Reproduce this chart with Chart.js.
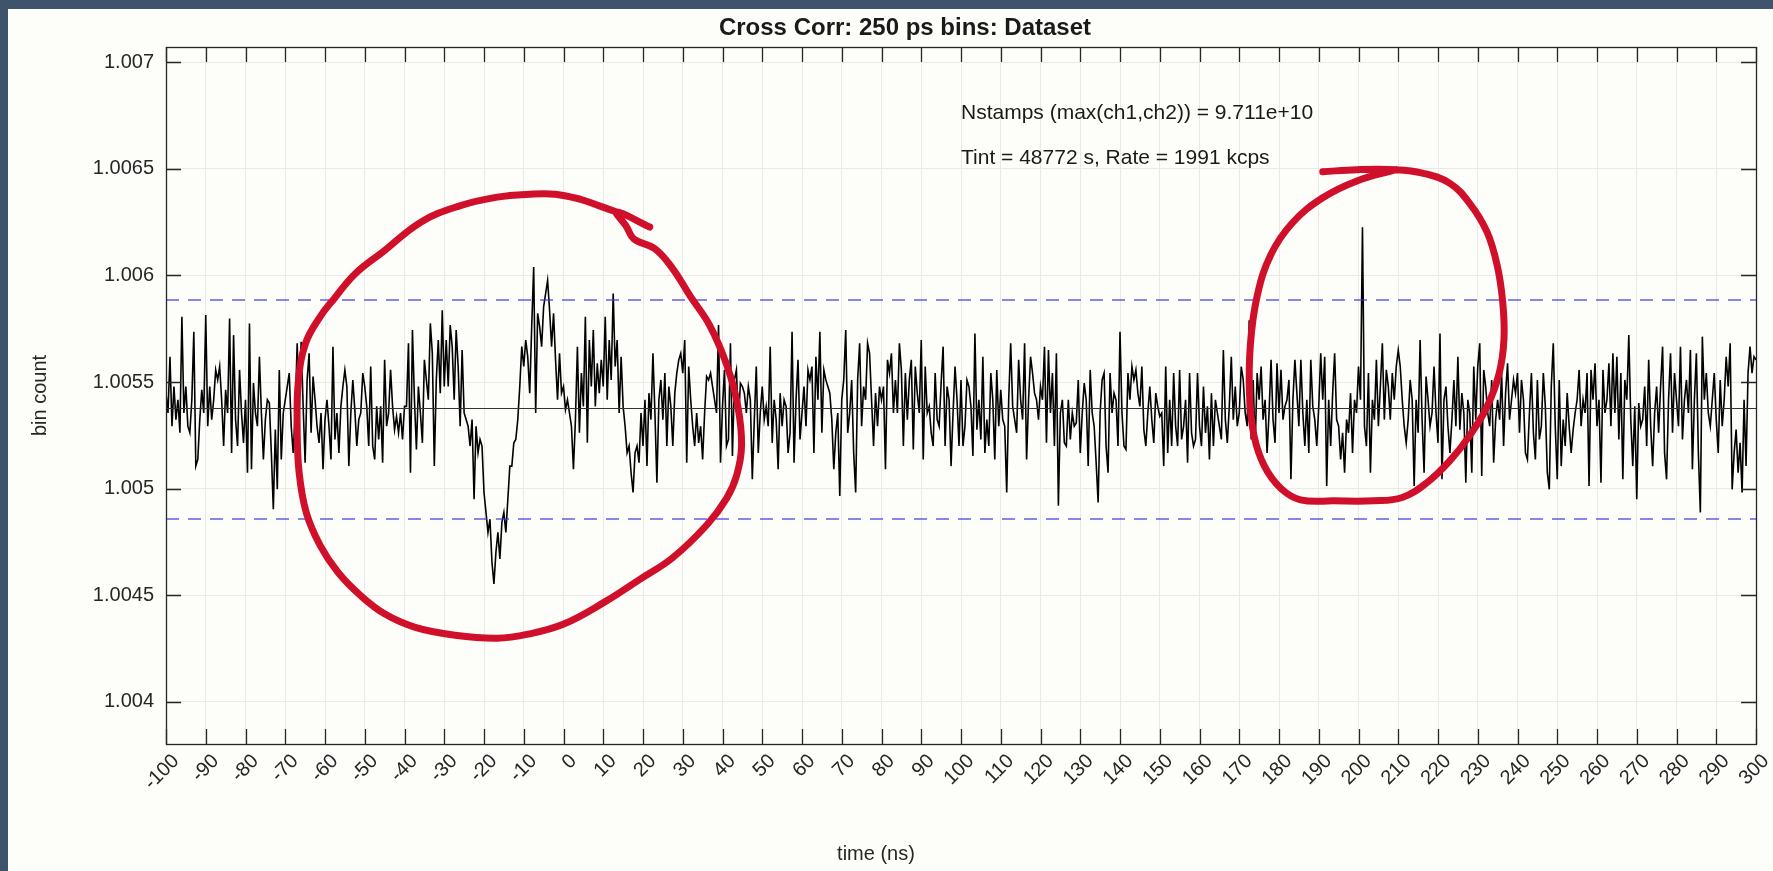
<!DOCTYPE html>
<html>
<head>
<meta charset="utf-8">
<script src="https://cdn.jsdelivr.net/npm/chart.js@4.4.1/dist/chart.umd.min.js"></script>
<style>
  html, body { margin: 0; padding: 0; background: #3d546a; overflow: hidden; }
  canvas { display: block; }
</style>
</head>
<body>
<canvas id="xcorr" width="1773" height="871"></canvas>
<script>
// ---- data -----------------------------------------------------------------
// Cross-correlation histogram, bins 0.5 ns apart starting at -100 ns.
const binStartNs = -100;
const binWidthNs = 0.5;

// Normalised bin count minus one, in parts per million (bin count = 1 + ppm * 1e-6).
const excessPpm = [
  // -100 .. -90.5
  5448,5355,5619,5293,5479,5324,5417,5262,5806,5355,5479,5293,5262,5417,5736,5106,5137,5324,5464,5355,
  // -90 .. -80.5
  5814,5293,5479,5324,5417,5557,5510,5573,5417,5200,5464,5355,5798,5168,5720,5324,5200,5557,5355,5215,
  // -80 .. -70.5
  5417,5075,5775,5091,5495,5355,5293,5619,5355,5137,5324,5417,5402,5168,4904,5277,4997,5557,5137,5355,
  // -70 .. -60.5
  5417,5479,5542,5293,5168,5355,5682,5355,5689,5386,5122,5510,5635,5262,5526,5417,5293,5215,5355,5091,
  // -60 .. -50.5
  5324,5417,5293,5137,5666,5231,5355,5168,5386,5479,5557,5479,5106,5355,5510,5371,5200,5324,5355,5542,
  // -50 .. -40.5
  5479,5386,5200,5573,5200,5137,5386,5231,5386,5122,5604,5293,5355,5557,5386,5277,5339,5262,5355,5231,
  // -40 .. -30.5
  5386,5386,5682,5075,5744,5417,5184,5479,5355,5215,5604,5510,5417,5775,5635,5106,5510,5697,5448,5837,
  // -30 .. -20.5
  5479,5697,5479,5767,5666,5417,5744,5573,5293,5650,5355,5324,5293,5200,5324,4951,5293,5168,5231,5200,
  // -20 .. -10.5
  4982,4889,4795,4857,4655,4554,4702,4795,4671,4842,4889,4795,4951,5106,5106,5215,5231,5324,5479,5666,
  // -10 .. -0.5
  5573,5697,5619,5448,5759,6039,5355,5822,5759,5666,5853,5915,5977,5837,5666,5822,5604,5417,5635,5448,
  // 0 .. 9.5
  5479,5371,5417,5355,5293,5091,5324,5666,5262,5542,5386,5806,5215,5697,5479,5744,5386,5588,5448,5604,
  // 10 .. 19.5
  5479,5806,5417,5697,5510,5915,5573,5697,5355,5619,5386,5293,5168,5200,5075,4982,5168,5200,5122,5355,
  // 20 .. 29.5
  5200,5417,5106,5448,5324,5635,5355,5028,5417,5510,5324,5542,5200,5479,5386,5200,5448,5542,5604,5635,
  // 30 .. 39.5
  5542,5697,5122,5573,5417,5293,5200,5355,5215,5293,5137,5355,5526,5510,5542,5479,5417,5355,5767,5122,
  // 40 .. 49.5
  5386,5557,5200,5231,5682,5153,5510,5557,5308,5495,5479,5448,5355,5479,5417,5044,5324,5573,5168,5355,
  // 50 .. 59.5
  5479,5324,5386,5293,5666,5215,5417,5324,5091,5448,5293,5417,5386,5168,5262,5736,5122,5417,5604,5231,
  // 60 .. 69.5
  5355,5479,5293,5557,5510,5573,5168,5619,5417,5736,5262,5557,5510,5479,5448,5324,5091,5262,5355,4966,
  // 70 .. 79.5
  5417,5510,5744,5262,5355,5510,5168,4982,5510,5682,5293,5479,5417,5682,5635,5417,5200,5448,5293,5479,
  // 80 .. 89.5
  5417,5479,5091,5604,5542,5635,5355,5510,5355,5682,5557,5200,5542,5324,5510,5604,5184,5573,5448,5355,
  // 90 .. 99.5
  5697,5137,5573,5355,5386,5262,5200,5542,5324,5293,5495,5666,5200,5479,5417,5106,5355,5573,5417,5200,
  // 100 .. 109.5
  5510,5200,5293,5510,5479,5386,5153,5728,5277,5417,5231,5619,5168,5324,5200,5542,5417,5137,5557,5293,
  // 110 .. 119.5
  5464,5324,5293,4982,5417,5682,5386,5324,5262,5604,5417,5324,5682,5137,5417,5619,5542,5448,5417,5324,
  // 120 .. 129.5
  5479,5417,5666,5215,5650,5355,5542,5200,5635,4920,5355,5417,5215,5200,5417,5231,5355,5293,5308,5510,
  // 130 .. 139.5
  5168,5355,5495,5417,5106,5557,5355,5293,5122,4935,5355,5510,5542,5200,5075,5542,5355,5448,5417,5200,
  // 140 .. 149.5
  5736,5355,5200,5184,5542,5417,5573,5510,5557,5448,5386,5573,5277,5200,5355,5479,5324,5215,5448,5386,
  // 150 .. 159.5
  5339,5355,5106,5573,5168,5417,5200,5542,5293,5200,5557,5231,5293,5417,5122,5542,5262,5200,5231,5542,
  // 160 .. 169.5
  5293,5200,5479,5262,5386,5137,5448,5200,5417,5355,5293,5231,5650,5324,5215,5386,5619,5324,5479,5293,
  // 170 .. 179.5
  5355,5573,5510,5355,5293,5790,5231,5510,5200,5542,5417,5573,5324,5417,5168,5355,5604,5324,5215,5588,
  // 180 .. 189.5
  5355,5557,5324,5386,5417,5510,5044,5417,5604,5448,5293,5604,5355,5200,5417,5168,5604,5386,5324,5200,
  // 190 .. 199.5
  5386,5635,5417,5619,5013,5417,5200,5448,5635,5324,5293,5137,5262,5075,5324,5262,5448,5168,5417,5355,
  // 200 .. 209.5
  5573,5417,6226,5293,5200,5542,5075,5417,5324,5604,5293,5479,5682,5324,5557,5479,5324,5542,5417,5573,
  // 210 .. 219.5
  5650,5573,5417,5293,5215,5324,5510,5417,5013,5417,5262,5697,5324,5075,5526,5417,5293,5355,5573,5355,
  // 220 .. 229.5
  5215,5728,5044,5417,5479,5293,5168,5324,5510,5293,5619,5277,5448,5355,5028,5417,5355,5075,5573,5324,
  // 230 .. 239.5
  5573,5682,5060,5557,5479,5355,5293,5510,5122,5324,5417,5324,5542,5200,5448,5588,5324,5417,5510,5448,
  // 240 .. 249.5
  5542,5262,5510,5417,5168,5137,5355,5542,5262,5137,5510,5231,5293,5542,5386,5075,4997,5479,5682,5293,
  // 250 .. 259.5
  5044,5510,5106,5324,5200,5448,5293,5168,5277,5355,5417,5557,5293,5417,5355,5542,5013,5557,5417,5588,
  // 260 .. 269.5
  5293,5417,5028,5557,5355,5417,5588,5293,5635,5355,5619,5231,5542,5044,5510,5417,5720,5324,5106,5386,
  // 270 .. 279.5
  4951,5402,5293,5324,5479,5200,5604,5293,5106,5355,5479,5262,5479,5666,5168,5044,5417,5635,5262,5542,
  // 280 .. 289.5
  5417,5293,5666,5231,5417,5510,5355,5650,5091,5417,5635,5168,4889,5713,5417,5542,5355,5293,5417,5542,
  // 290 .. 300
  5324,5168,5510,5293,5417,5619,5479,5682,4997,5168,5277,5075,5215,4982,5417,5106,5542,5666,5542,5619,
  5604
];

// Reference levels: mean and the +/- band
const meanLevel = 1.005376;
const upperBand = 1.005885;
const lowerBand = 1.004858;

// Axis ticks
const xTicks = [-100,-90,-80,-70,-60,-50,-40,-30,-20,-10,0,10,20,30,40,50,60,70,80,90,100,
                110,120,130,140,150,160,170,180,190,200,210,220,230,240,250,260,270,280,290,300];
const yTicks = [1.004, 1.0045, 1.005, 1.0055, 1.006, 1.0065, 1.007];
const yTickLabels = ['1.004', '1.0045', '1.005', '1.0055', '1.006', '1.0065', '1.007'];
const xRange = [-100, 300];
const yRange = [1.003803, 1.007071];

// Hand-drawn highlight loops (time in ns, level in ppm above 1)
const leftLoopNs  = [21.7,13.4,15.9,17.7,23.0,27.5,31.8,36.8,41.1,43.8,44.8,43.6,41.1,36.1,27.5,19.2,10.2,-0.1,-8.9,-16.7,
                     -27.3,-37.3,-44.8,-51.1,-56.7,-61.2,-64.7,-66.5,-67.0,-66.7,-64.9,-61.2,-57.7,-52.4,-45.4,-35.8,-26.3,-16.7,-8.4,-2.1,
                     4.1,9.2,13.4];
const leftLoopPpm = [6227,6297,6227,6171,6125,6031,5905,5765,5578,5392,5205,5065,4957,4831,4677,4575,4467,4364,4318,4299,
                     4313,4350,4411,4500,4607,4733,4887,5074,5284,5504,5681,5807,5891,6008,6111,6251,6325,6367,6381,6381,
                     6358,6325,6297];
const rightLoopNs  = [191.0,199.6,209.5,216.1,222.9,228.0,232.3,234.9,236.3,236.6,235.4,232.3,228.0,222.9,217.2,211.0,203.8,193.9,
                      185.4,180.5,176.3,173.7,172.6,172.8,174.5,178.0,183.4,191.0,199.6,209.5];
const rightLoopPpm = [6486,6496,6496,6480,6433,6337,6205,6046,5871,5701,5542,5383,5250,5129,5028,4959,4943,4943,
                      4948,5001,5107,5250,5436,5675,5903,6099,6247,6364,6443,6496];

// Text
const titleText = 'Cross Corr: 250 ps bins: Dataset';
const xLabelText = 'time (ns)';
const yLabelText = 'bin count';
const statsLines = ['Nstamps (max(ch1,ch2)) = 9.711e+10', 'Tint = 48772 s, Rate = 1991 kcps'];
const statsAnchorNs = 100;
const statsLevels = [1.00676, 1.00655];

// ---- build datasets ------------------------------------------------------------
const fromPpm = p => 1 + p * 1e-6;
const seriesPoints = excessPpm.map((p, i) => ({ x: binStartNs + i * binWidthNs, y: fromPpm(p) }));
const loopPoints = (ns, ppm) => ns.map((t, i) => ({ x: t, y: fromPpm(ppm[i]) }));
const hLine = level => [{ x: xRange[0], y: level }, { x: xRange[1], y: level }];

const FONT = '"Liberation Sans", Arial, Helvetica, sans-serif';
const INK = '#262626';
const RED = '#d0102a';

// ---- plugins ---------------------------------------------------------------
const panelBackground = {
  id: 'panelBackground',
  beforeDraw(chart) {
    const { ctx, width, height } = chart;
    ctx.save();
    ctx.fillStyle = '#3d546a';
    ctx.fillRect(0, 0, width, height);
    ctx.fillStyle = '#fdfdfa';
    ctx.fillRect(8, 9, width - 8, height - 9);
    ctx.restore();
  }
};

// Box around the axes with inward tick marks on all four sides
const axesFrame = {
  id: 'axesFrame',
  afterDatasetsDraw(chart) {
    const { ctx, chartArea: a, scales: { x, y } } = chart;
    const len = 15;
    ctx.save();
    ctx.strokeStyle = INK;
    ctx.lineWidth = 1.3;
    ctx.beginPath();
    xTicks.forEach(v => {
      const px = Math.round(x.getPixelForValue(v)) + 0.5;
      ctx.moveTo(px, a.bottom); ctx.lineTo(px, a.bottom - len);
      ctx.moveTo(px, a.top); ctx.lineTo(px, a.top + len);
    });
    yTicks.forEach(v => {
      const py = Math.round(y.getPixelForValue(v)) + 0.5;
      ctx.moveTo(a.left, py); ctx.lineTo(a.left + len, py);
      ctx.moveTo(a.right, py); ctx.lineTo(a.right - len, py);
    });
    ctx.stroke();
    ctx.strokeRect(Math.round(a.left) + 0.5, Math.round(a.top) + 0.5,
                   Math.round(a.right - a.left), Math.round(a.bottom - a.top));
    ctx.restore();
  }
};

// Title, axis titles, slanted time labels and the run statistics
const chartText = {
  id: 'chartText',
  afterDraw(chart) {
    const { ctx, chartArea: a, scales: { x, y } } = chart;
    ctx.save();

    ctx.fillStyle = '#1a1a1a';
    ctx.textBaseline = 'middle';
    ctx.textAlign = 'center';
    ctx.font = 'bold 24px ' + FONT;
    ctx.fillText(titleText, 905, 28);

    ctx.fillStyle = INK;
    ctx.font = '20px ' + FONT;
    ctx.fillText(xLabelText, 876, 854);

    ctx.save();
    ctx.translate(40, (a.top + a.bottom) / 2);
    ctx.rotate(-Math.PI / 2);
    ctx.fillText(yLabelText, 0, 0);
    ctx.restore();

    // slanted tick labels along the time axis
    ctx.textAlign = 'right';
    ctx.textBaseline = 'top';
    xTicks.forEach(v => {
      ctx.save();
      ctx.translate(x.getPixelForValue(v) + 3, a.bottom + 7);
      ctx.rotate(-Math.PI / 4);
      ctx.fillText(String(v), 0, 0);
      ctx.restore();
    });

    ctx.textAlign = 'left';
    ctx.textBaseline = 'middle';
    ctx.fillStyle = '#1a1a1a';
    ctx.font = '21px ' + FONT;
    statsLines.forEach((line, i) => {
      ctx.fillText(line, x.getPixelForValue(statsAnchorNs), y.getPixelForValue(statsLevels[i]));
    });
    ctx.restore();
  }
};

// ---- chart -----------------------------------------------------------------
new Chart(document.getElementById('xcorr'), {
  type: 'line',
  data: {
    datasets: [
      { label: 'loop A', data: loopPoints(leftLoopNs, leftLoopPpm), borderColor: RED, borderWidth: 7,
        tension: 0.4, pointRadius: 0, borderCapStyle: 'round', borderJoinStyle: 'round', fill: false },
      { label: 'loop B', data: loopPoints(rightLoopNs, rightLoopPpm), borderColor: RED, borderWidth: 7,
        tension: 0.4, pointRadius: 0, borderCapStyle: 'round', borderJoinStyle: 'round', fill: false },
      { label: 'upper', data: hLine(upperBand), borderColor: 'rgba(55,55,225,0.8)', borderWidth: 1.6,
        borderDash: [13, 9], pointRadius: 0 },
      { label: 'lower', data: hLine(lowerBand), borderColor: 'rgba(55,55,225,0.8)', borderWidth: 1.6,
        borderDash: [13, 9], pointRadius: 0 },
      { label: 'mean', data: hLine(meanLevel), borderColor: '#333', borderWidth: 1, pointRadius: 0 },
      { label: 'counts', data: seriesPoints, borderColor: '#000', borderWidth: 1.6, pointRadius: 0,
        tension: 0, borderJoinStyle: 'miter' }
    ]
  },
  options: {
    responsive: false,
    devicePixelRatio: 1,
    animation: false,
    parsing: false,
    normalized: true,
    layout: { padding: { top: 47, left: 8, right: 17, bottom: 0 } },
    plugins: { legend: { display: false }, tooltip: { enabled: false }, title: { display: false } },
    scales: {
      x: {
        type: 'linear',
        min: xRange[0], max: xRange[1],
        afterBuildTicks: s => { s.ticks = xTicks.map(v => ({ value: v })); },
        afterFit: s => { s.height = 127; s.paddingLeft = 0; s.paddingRight = 0; },
        ticks: { display: false },
        grid: { color: '#e9e9e6', lineWidth: 1, drawTicks: false },
        border: { display: false }
      },
      y: {
        type: 'linear',
        min: yRange[0], max: yRange[1],
        afterBuildTicks: s => { s.ticks = yTicks.map(v => ({ value: v })); },
        afterFit: s => { s.width = 158; s.paddingTop = 0; s.paddingBottom = 0; },
        ticks: { padding: 12, color: INK, font: { family: FONT, size: 20 },
                 callback: (v, i) => yTickLabels[i] },
        grid: { color: '#e9e9e6', lineWidth: 1, drawTicks: false },
        border: { display: false }
      }
    }
  },
  plugins: [panelBackground, axesFrame, chartText]
});
</script>
</body>
</html>
